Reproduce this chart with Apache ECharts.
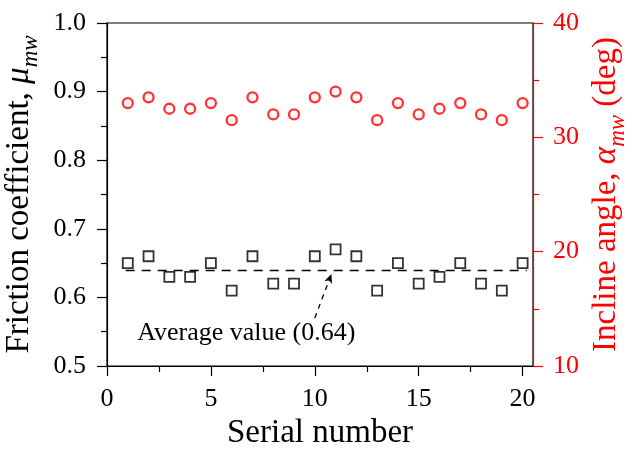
<!DOCTYPE html>
<html>
<head>
<meta charset="utf-8">
<script src="https://cdn.jsdelivr.net/npm/echarts@6/dist/echarts.min.js"></script>
<style>
  html, body { margin: 0; padding: 0; background: #fff; }
  #chart { width: 630px; height: 450px; }
</style>
</head>
<body>
<div id="chart"></div>
<script>
// Test serial numbers
const serials = [1, 2, 3, 4, 5, 6, 7, 8, 9, 10, 11, 12, 13, 14, 15, 16, 17, 18, 19, 20];
// Friction coefficient per test (left axis)
const friction = [0.65, 0.66, 0.63, 0.63, 0.65, 0.61, 0.66, 0.62, 0.62, 0.66,
                  0.67, 0.66, 0.61, 0.65, 0.62, 0.63, 0.65, 0.62, 0.61, 0.65];
// Incline angle per test, degrees (right axis)
const incline = [33.0, 33.5, 32.5, 32.5, 33.0, 31.5, 33.5, 32.0, 32.0, 33.5,
                 34.0, 33.5, 31.5, 33.0, 32.0, 32.5, 33.0, 32.0, 31.5, 33.0];
const averageFriction = 0.64;
const averageSpan = [0.9, 20.2];
// Annotation: dashed arrow tail/head and label anchor (data units)
const arrowTail = [10.0, 0.57];
const arrowHead = [10.8, 0.634];
const noteAnchor = [1.45, 0.548];

const xMajor = [0, 5, 10, 15, 20];
const xMinor = [2.5, 7.5, 12.5, 17.5];

const FONT = 'Liberation Serif';
const RED = '#ff0000';
const NAME_SIZE = 33;
const SUB_SIZE = 23;
const TICK_SIZE = 26;

function nameRich(color) {
  return {
    t: { fontFamily: FONT, fontSize: NAME_SIZE, color: color, verticalAlign: 'top' },
    i: { fontFamily: FONT, fontSize: NAME_SIZE, fontStyle: 'italic', color: color, verticalAlign: 'top' },
    s: { fontFamily: FONT, fontSize: SUB_SIZE, fontStyle: 'italic', color: color,
         verticalAlign: 'top', padding: [17, 0, 0, 0] }
  };
}

const chart = echarts.init(document.getElementById('chart'), null, { renderer: 'canvas' });

chart.setOption({
  animation: false,
  backgroundColor: '#fff',
  textStyle: { fontFamily: FONT },
  grid: {
    left: 107, right: 97, top: 23, bottom: 84,
    containLabel: false, outerBoundsMode: 'none',
    show: true, borderColor: '#000', borderWidth: 1.2, backgroundColor: 'transparent'
  },
  xAxis: [
    {
      type: 'value', min: 0, max: 20.5,
      name: 'Serial number', nameLocation: 'middle', nameGap: 40,
      nameTextStyle: { fontFamily: FONT, fontSize: NAME_SIZE, color: '#000' },
      axisLine: { show: true, onZero: false, lineStyle: { color: '#000', width: 1.2 } },
      axisTick: { show: true, length: 10, customValues: xMajor, lineStyle: { color: '#000', width: 1.2 } },
      axisLabel: { customValues: xMajor, fontFamily: FONT, fontSize: TICK_SIZE, color: '#000', margin: 20 },
      splitLine: { show: false }
    },
    {
      type: 'value', min: 0, max: 20.5, position: 'bottom',
      axisLine: { show: false, onZero: false },
      axisTick: { show: true, length: 6, customValues: xMinor, lineStyle: { color: '#000', width: 1.2 } },
      axisLabel: { show: false },
      splitLine: { show: false }
    }
  ],
  yAxis: [
    {
      type: 'value', min: 0.5, max: 1.0, interval: 0.1, position: 'left',
      name: '{t|Friction coefficient, }{i|μ}{s|mw}',
      nameLocation: 'middle', nameRotate: 90, nameGap: 57,
      nameTextStyle: { fontFamily: FONT, fontSize: NAME_SIZE, color: '#000', rich: nameRich('#000') },
      axisLine: { show: true, onZero: false, lineStyle: { color: '#000', width: 1.2 } },
      axisTick: { show: true, length: 10, lineStyle: { color: '#000', width: 1.2 } },
      minorTick: { show: true, splitNumber: 2, length: 6, lineStyle: { color: '#000', width: 1.2 } },
      axisLabel: { fontFamily: FONT, fontSize: TICK_SIZE, color: '#000', margin: 21,
                   formatter: v => v.toFixed(1) },
      splitLine: { show: false }
    },
    {
      type: 'value', min: 10, max: 40, interval: 10, position: 'right',
      name: '{t|Incline angle, }{i|α}{s|mw}{t| (deg)}',
      nameLocation: 'middle', nameRotate: 90, nameGap: 53,
      nameTextStyle: { fontFamily: FONT, fontSize: NAME_SIZE, color: RED, rich: nameRich(RED) },
      axisLine: { show: true, onZero: false, lineStyle: { color: RED, width: 1.2 } },
      axisTick: { show: true, length: 10, lineStyle: { color: RED, width: 1.2 } },
      minorTick: { show: true, splitNumber: 2, length: 6, lineStyle: { color: RED, width: 1.2 } },
      axisLabel: { fontFamily: FONT, fontSize: TICK_SIZE, color: RED, margin: 20 },
      splitLine: { show: false }
    }
  ],
  series: [
    {
      name: 'Friction coefficient',
      type: 'scatter', xAxisIndex: 0, yAxisIndex: 0,
      symbol: 'rect', symbolSize: 10,
      itemStyle: { color: '#fff', borderColor: '#000', borderWidth: 1.8 },
      data: serials.map((s, i) => [s, friction[i]]),
      z: 3,
      markLine: {
        silent: true, symbol: 'none',
        label: { show: false },
        lineStyle: { color: '#000', type: [9, 7], width: 1.3 },
        data: [
          [{ coord: [averageSpan[0], averageFriction] }, { coord: [averageSpan[1], averageFriction] }],
          [{ coord: arrowTail, symbol: 'none' },
           { coord: arrowHead, symbol: 'arrow', symbolSize: [6, 9],
             lineStyle: { type: [5, 5], width: 1.3 } }]
        ]
      },
      markPoint: {
        silent: true, symbol: 'circle', symbolSize: 0,
        data: [{
          coord: noteAnchor,
          label: {
            show: true, position: 'right', distance: 0,
            formatter: 'Average value (' + averageFriction.toFixed(2) + ')',
            fontFamily: FONT, fontSize: 26, color: '#000'
          }
        }]
      }
    },
    {
      name: 'Incline angle',
      type: 'scatter', xAxisIndex: 0, yAxisIndex: 1,
      symbol: 'circle', symbolSize: 10,
      itemStyle: { color: '#fff', borderColor: RED, borderWidth: 2.3 },
      data: serials.map((s, i) => [s, incline[i]]),
      z: 3
    }
  ]
});
</script>
</body>
</html>
